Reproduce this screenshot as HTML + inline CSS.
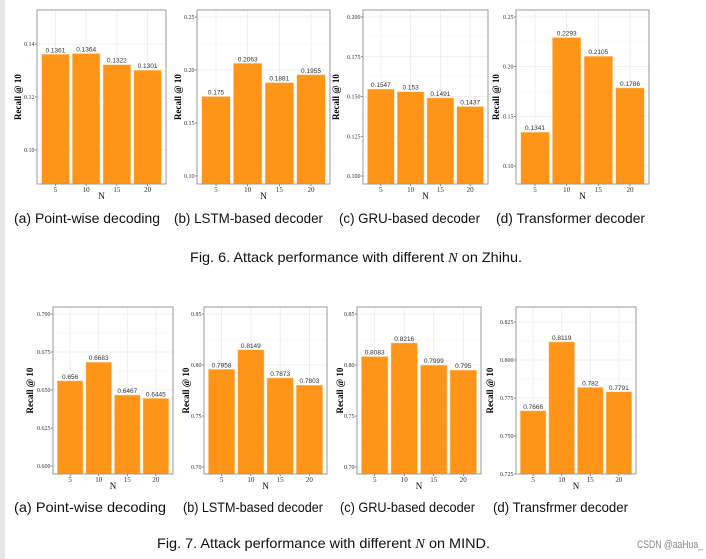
<!DOCTYPE html>
<html><head><meta charset="utf-8">
<style>
html,body{margin:0;padding:0;background:#fff;}
svg{display:block;}
.tick{font-family:"Liberation Serif",serif;font-size:6px;fill:#333;}
.xtick{font-family:"Liberation Serif",serif;font-size:7px;fill:#333;}
.val{font-family:"Liberation Sans",sans-serif;font-size:6.5px;fill:#333;}
.ylab{font-family:"Liberation Serif",serif;font-size:9px;font-weight:bold;fill:#000;}
.xlab{font-family:"Liberation Serif",serif;font-size:9px;fill:#000;}
.cap{font-family:"Liberation Sans",sans-serif;font-size:14px;fill:#111;}
</style></head>
<body>
<svg id="fig" width="706" height="559" viewBox="0 0 706 559" xmlns="http://www.w3.org/2000/svg">
<rect x="0" y="0" width="706" height="559" fill="#fff"/>
<rect x="0" y="0" width="5" height="559" fill="#e6e6e6"/>
<text class="cap" x="14" y="223" textLength="146" lengthAdjust="spacingAndGlyphs">(a) Point-wise decoding</text>
<text class="cap" x="174" y="223" textLength="149" lengthAdjust="spacingAndGlyphs">(b) LSTM-based decoder</text>
<text class="cap" x="339" y="223" textLength="141" lengthAdjust="spacingAndGlyphs">(c) GRU-based decoder</text>
<text class="cap" x="496" y="223" textLength="149" lengthAdjust="spacingAndGlyphs">(d) Transformer decoder</text>
<text class="cap" x="190" y="262" textLength="332" lengthAdjust="spacingAndGlyphs">Fig. 6.  Attack performance with different <tspan font-style="italic" font-family="Liberation Serif">N</tspan> on Zhihu.</text>
<text class="cap" x="14" y="512" textLength="152" lengthAdjust="spacingAndGlyphs">(a) Point-wise decoding</text>
<text class="cap" x="183" y="512" textLength="140" lengthAdjust="spacingAndGlyphs">(b) LSTM-based decoder</text>
<text class="cap" x="340" y="512" textLength="135" lengthAdjust="spacingAndGlyphs">(c) GRU-based decoder</text>
<text class="cap" x="493" y="512" textLength="135" lengthAdjust="spacingAndGlyphs">(d) Transfrmer decoder</text>
<text class="cap" x="157" y="548" textLength="333" lengthAdjust="spacingAndGlyphs">Fig. 7.  Attack performance with different <tspan font-style="italic" font-family="Liberation Serif">N</tspan> on MIND.</text>
<text x="637" y="548" font-family="Liberation Sans,sans-serif" font-size="11" fill="#888" textLength="66" lengthAdjust="spacingAndGlyphs">CSDN @aaHua_</text>
</svg>
<script>
const categories = ["5","10","15","20"];
const zhihuA = [0.1361,0.1364,0.1322,0.1301];
const zhihuB = [0.175,0.2063,0.1881,0.1955];
const zhihuC = [0.1547,0.153,0.1491,0.1437];
const zhihuD = [0.1341,0.2293,0.2105,0.1786];
const mindA = [0.656,0.6683,0.6467,0.6445];
const mindB = [0.7958,0.8149,0.7873,0.7803];
const mindC = [0.8083,0.8216,0.7999,0.795];
const mindD = [0.7666,0.8119,0.782,0.7791];
const labelsZA = ["0.1361","0.1364","0.1322","0.1301"];
const labelsZB = ["0.175","0.2063","0.1881","0.1955"];
const labelsZC = ["0.1547","0.153","0.1491","0.1437"];
const labelsZD = ["0.1341","0.2293","0.2105","0.1786"];
const labelsMA = ["0.656","0.6683","0.6467","0.6445"];
const labelsMB = ["0.7958","0.8149","0.7873","0.7803"];
const labelsMC = ["0.8083","0.8216","0.7999","0.795"];
const labelsMD = ["0.7666","0.8119","0.782","0.7791"];
const ticksZA = [0.10,0.12,0.14];
const ticksZB = [0.10,0.15,0.20,0.25];
const ticksZC = [0.100,0.125,0.150,0.175,0.200];
const ticksZD = [0.10,0.15,0.20,0.25];
const ticksMA = [0.600,0.625,0.650,0.675,0.700];
const ticksMB = [0.70,0.75,0.80,0.85];
const ticksMC = [0.70,0.75,0.80,0.85];
const ticksMD = [0.725,0.750,0.775,0.800,0.825];

const NS="http://www.w3.org/2000/svg";
const svg=document.getElementById('fig');
function mk(tag,attrs,parent){const e=document.createElementNS(NS,tag);for(const k in attrs)e.setAttribute(k,attrs[k]);(parent||svg).appendChild(e);return e;}

const panels=[
 {id:'zhihu-a',x0:37,x1:166,y0:10,y1:184,v:zhihuA,l:labelsZA,t:ticksZA,r:[0.10,150,0.14,44],yl:18,d:2},
 {id:'zhihu-b',x0:197,x1:330,y0:10,y1:184,v:zhihuB,l:labelsZB,t:ticksZB,r:[0.10,176,0.25,17],yl:178,d:2},
 {id:'zhihu-c',x0:363,x1:488,y0:10,y1:184,v:zhihuC,l:labelsZC,t:ticksZC,r:[0.100,176,0.200,17],yl:336,d:3},
 {id:'zhihu-d',x0:516,x1:649,y0:10,y1:184,v:zhihuD,l:labelsZD,t:ticksZD,r:[0.10,166,0.25,17],yl:496,d:2},
 {id:'mind-a',x0:53,x1:173,y0:307,y1:474,v:mindA,l:labelsMA,t:ticksMA,r:[0.600,466,0.700,314],yl:30,d:3},
 {id:'mind-b',x0:204,x1:327,y0:307,y1:474,v:mindB,l:labelsMB,t:ticksMB,r:[0.70,467,0.85,314],yl:186,d:2},
 {id:'mind-c',x0:357,x1:481,y0:307,y1:474,v:mindC,l:labelsMC,t:ticksMC,r:[0.70,467,0.85,314],yl:340,d:2},
 {id:'mind-d',x0:516,x1:636,y0:307,y1:474,v:mindD,l:labelsMD,t:ticksMD,r:[0.725,474,0.825,322],yl:490,d:3}
];

panels.forEach(p=>{
  const g=mk('g',{});
  
  
  const [va,pa,vb,pb]=p.r;
  const y=v=>pa+(v-va)*(pb-pa)/(vb-va);
  const unit=(p.x1-p.x0)/4.2;
  const xc=i=>p.x0+unit*(0.6+i);
  p.t.forEach((tv,i)=>{
    const yy=y(tv);
    mk('line',{x1:p.x0,x2:p.x1,y1:yy,y2:yy,stroke:'#ebebeb','stroke-width':0.8},g);
    if(i<p.t.length-1){const ym=y((tv+p.t[i+1])/2);mk('line',{x1:p.x0,x2:p.x1,y1:ym,y2:ym,stroke:'#f4f4f4','stroke-width':0.5},g);}
    const lab=mk('text',{x:p.x0-2.5,y:yy+2,'text-anchor':'end',class:'tick'},g);
    
    
    lab.textContent=tv.toFixed(p.d);
    mk('line',{x1:p.x0-2,x2:p.x0,y1:yy,y2:yy,stroke:'#333','stroke-width':0.6},g);
  });
  categories.forEach((c,i)=>{
    mk('line',{x1:xc(i),x2:xc(i),y1:p.y0,y2:p.y1,stroke:'#ebebeb','stroke-width':0.8},g);
  });
  categories.forEach((c,i)=>{
    const top=y(p.v[i]);const w=unit*0.9;
    const b=mk('rect',{x:xc(i)-w/2,y:top,width:w,height:p.y1-top,fill:'#fe9518',stroke:'#ffd9a8','stroke-width':0.5},g);
    
    
    const t=mk('text',{x:xc(i),y:top-2,'text-anchor':'middle',class:'val'},g);
    
    
    t.textContent=p.l[i];
    const xl=mk('text',{x:xc(i),y:p.y1+8,'text-anchor':'middle',class:'xtick'},g);
    
    
    xl.textContent=c;
    mk('line',{x1:xc(i),x2:xc(i),y1:p.y1,y2:p.y1+2,stroke:'#333','stroke-width':0.6},g);
  });
  const fr=mk('rect',{x:p.x0,y:p.y0,width:p.x1-p.x0,height:p.y1-p.y0,fill:'none',stroke:'#9a9a9a','stroke-width':1},g);
  
  
  const xt=mk('text',{x:(p.x0+p.x1)/2,y:p.y1+15,'text-anchor':'middle',class:'xlab'},g);
  
  
  xt.textContent='N';
  const cy=(p.y0+p.y1)/2;
  const yt=mk('text',{x:p.yl,y:cy,'text-anchor':'middle',class:'ylab',transform:'rotate(-90 '+p.yl+' '+cy+')',dy:'3'},g);
  
  
  yt.textContent='Recall @ 10';
});
</script>
</body></html>
